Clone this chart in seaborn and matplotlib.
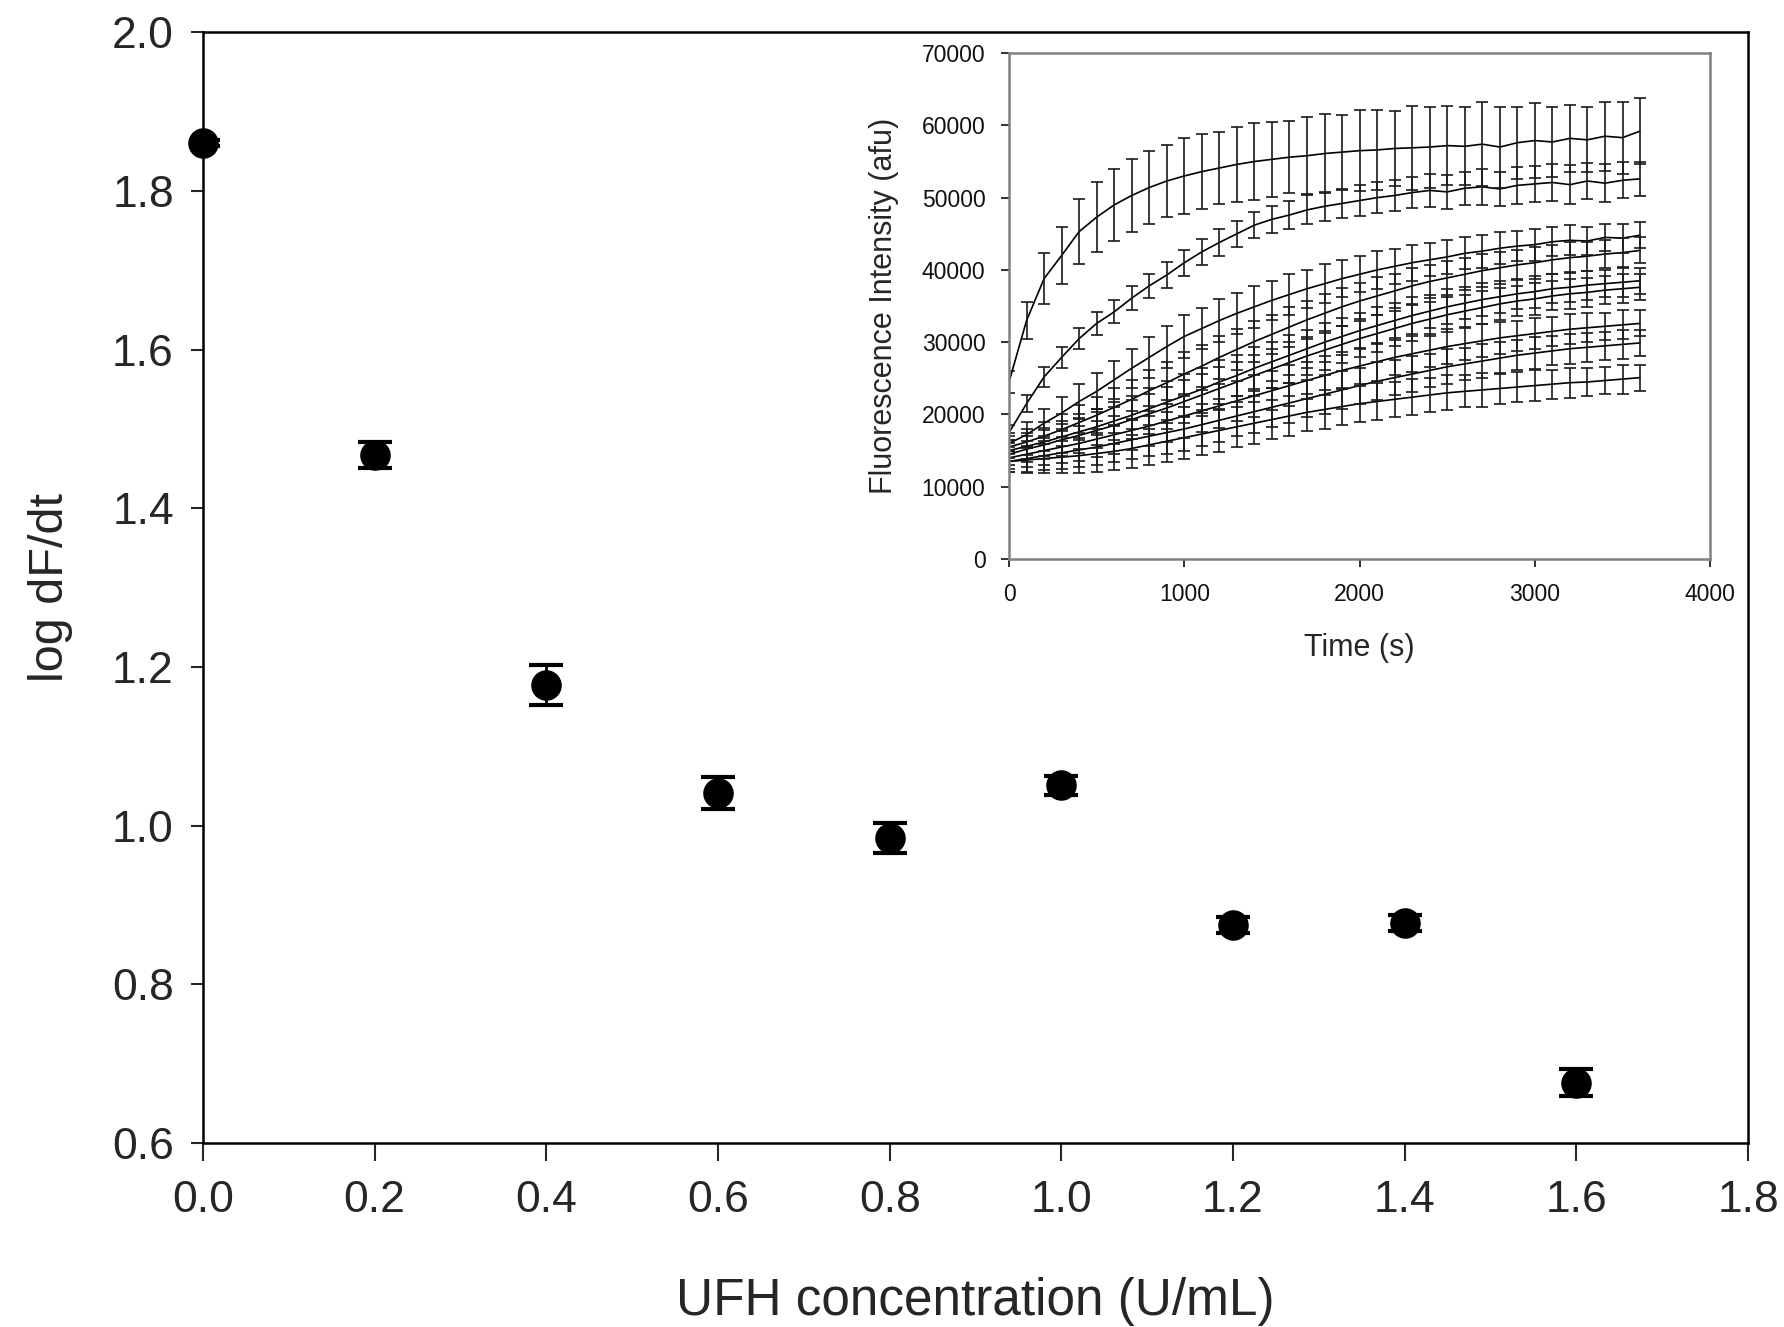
import matplotlib
matplotlib.use("Agg")
import matplotlib.pyplot as plt
import numpy as np
import pandas as pd
import seaborn as sns

# main panel: rate vs UFH concentration
conc = [0.0, 0.2, 0.4, 0.6, 0.8, 1.0, 1.2, 1.4, 1.6]
log_dfdt = [1.860, 1.467, 1.177, 1.041, 0.984, 1.051, 0.875, 0.877, 0.676]
log_err = [0.004, 0.016, 0.025, 0.020, 0.019, 0.012, 0.010, 0.010, 0.017]

# inset: fluorescence traces, one per concentration
time_s = list(range(0, 3700, 100))
trace_00 = [24500, 33000, 38800, 42000, 45300, 47300, 49000, 50300, 51400, 52300, 53000, 53600, 54100,
            54600, 55000, 55300, 55600, 55800, 56100, 56300, 56500, 56600, 56800, 56900, 57000, 57200,
            57100, 57400, 57000, 57600, 57900, 57700, 58200, 58000, 58500, 58300, 59200]
trace_02 = [17500, 21500, 25200, 27900, 30500, 32600, 34200, 36100, 37800, 39300, 41000, 42500, 43800,
            45000, 46200, 47000, 47600, 48300, 48800, 49200, 49600, 50000, 50300, 50700, 51000, 50800,
            51300, 51500, 51200, 51700, 51900, 52100, 51800, 52300, 52000, 52400, 52600]
trace_04 = [16000, 17200, 18800, 20200, 21800, 23200, 24800, 26400, 27900, 29400, 30800, 31900, 33000,
            34000, 34900, 35800, 36600, 37400, 38100, 38800, 39400, 40000, 40500, 41000, 41400, 41800,
            42300, 42600, 43000, 43300, 43500, 43900, 44100, 44000, 44500, 44400, 44800]
trace_06 = [15500, 16200, 17000, 17900, 18900, 19900, 21000, 22100, 23300, 24400, 25600, 26700, 27900,
            29000, 30100, 31100, 32100, 33100, 34000, 34900, 35700, 36400, 37100, 37800, 38400, 38900,
            39400, 39900, 40300, 40700, 41000, 41400, 41700, 41900, 42200, 42400, 42700]
trace_08 = [15000, 15600, 16200, 16900, 17600, 18300, 19100, 19900, 20800, 21700, 22600, 23500, 24500,
            25400, 26400, 27300, 28200, 29100, 30000, 30800, 31600, 32300, 33000, 33700, 34300, 34900,
            35400, 35900, 36300, 36700, 37000, 37400, 37600, 37900, 38100, 38300, 38500]
trace_10 = [14500, 15200, 15800, 16500, 17100, 17800, 18500, 19300, 20100, 20900, 21800, 22700, 23600,
            24500, 25400, 26300, 27200, 28100, 28900, 29700, 30500, 31200, 31900, 32600, 33200, 33800,
            34300, 34800, 35300, 35700, 36000, 36400, 36700, 36900, 37200, 37400, 37600]
trace_12 = [14000, 14500, 15000, 15500, 16000, 16600, 17200, 17800, 18400, 19100, 19800, 20500, 21200,
            21900, 22600, 23300, 24000, 24700, 25400, 26100, 26700, 27300, 27900, 28400, 28900, 29400,
            29800, 30200, 30600, 30900, 31200, 31500, 31800, 32000, 32200, 32400, 32600]
trace_14 = [13500, 13900, 14300, 14700, 15100, 15500, 16000, 16500, 17000, 17500, 18000, 18600, 19200,
            19800, 20400, 21000, 21600, 22200, 22800, 23400, 24000, 24600, 25100, 25600, 26100, 26600,
            27000, 27400, 27800, 28200, 28500, 28800, 29100, 29300, 29500, 29700, 29900]
trace_16 = [13500, 13700, 13900, 14100, 14300, 14600, 14900, 15300, 15800, 16300, 16800, 17300, 17800,
            18300, 18800, 19300, 19800, 20300, 20700, 21100, 21500, 21800, 22100, 22400, 22700, 23000,
            23200, 23400, 23600, 23800, 24000, 24200, 24400, 24500, 24700, 24900, 25100]

err_00 = [1500, 2500, 3500, 4000, 4500, 4800, 5000, 5000, 5000, 5000, 5200, 5200, 5000, 5200, 5300, 5200,
          5000, 5300, 5500, 5200, 5600, 5500, 5200, 5800, 5600, 5500, 5400, 5800, 5600, 5000, 5200, 4800,
          4600, 4500, 4800, 5000, 4600]
err_02 = [1000, 1200, 1400, 1500, 1500, 1600, 1600, 1700, 1700, 1800, 1800, 1800, 1900, 1800, 1800, 1900,
          1900, 2000, 2000, 2000, 2100, 2100, 2200, 2200, 2300, 2400, 2300, 2500, 2400, 2600, 2500, 2600,
          2700, 2500, 2600, 2500, 2400]
err_low = [1500, 1800, 2000, 2200, 2400, 2500, 2600, 2700, 2800, 2900, 3000, 2900, 3000, 2800, 2900, 2700,
           2800, 2600, 2700, 2600, 2500, 2600, 2400, 2500, 2300, 2400, 2200, 2300, 2200, 2100, 2200, 2000,
           2100, 2000, 1900, 2000, 1800]

traces = {"0.0": (trace_00, err_00), "0.2": (trace_02, err_02), "0.4": (trace_04, err_low),
          "0.6": (trace_06, err_low), "0.8": (trace_08, err_low), "1.0": (trace_10, err_low),
          "1.2": (trace_12, err_low), "1.4": (trace_14, err_low), "1.6": (trace_16, err_low)}

sns.set_style("ticks")
plt.rcParams['font.family'] = ['Liberation Sans', 'DejaVu Sans']

fig = plt.figure(figsize=(17.84, 13.27), dpi=100)
ax = fig.add_axes([0.1138, 0.1387, 0.866, 0.837])

ax.errorbar(conc, log_dfdt, yerr=log_err, fmt='none', ecolor='black', elinewidth=2,
            capsize=12, capthick=3, zorder=2)
sns.scatterplot(x=conc, y=log_dfdt, ax=ax, color='black', s=22 ** 2, edgecolor='black',
                linewidth=0, zorder=3, clip_on=False)

ax.set_xlim(0, 1.8)
ax.set_ylim(0.6, 2.0)
ax.set_xticks(np.arange(0, 1.81, 0.2))
ax.set_yticks(np.arange(0.6, 2.01, 0.2))
ax.xaxis.set_major_formatter(matplotlib.ticker.FormatStrFormatter('%.1f'))
ax.yaxis.set_major_formatter(matplotlib.ticker.FormatStrFormatter('%.1f'))
ax.tick_params(axis='y', direction='out', length=9, width=1.5, labelsize=32, pad=12, right=False)
ax.tick_params(axis='x', direction='out', length=13, width=1.5, labelsize=32, pad=14, top=False)
for s in ax.spines.values():
    s.set_linewidth(1.8)
    s.set_color('black')
ax.set_xlabel('UFH concentration (U/mL)', fontsize=37, labelpad=40)
ax.set_ylabel('log dF/dt', fontsize=35, labelpad=28)

# inset
ins = fig.add_axes([0.5656, 0.5787, 0.393, 0.3813])
rows = []
for c, (vals, errs) in traces.items():
    for t, v in zip(time_s, vals):
        rows.append({'time': t, 'conc': c, 'intensity': v})
df = pd.DataFrame(rows)
sns.lineplot(data=df, x='time', y='intensity', units='conc', estimator=None, color='black',
             linewidth=1.2, ax=ins)
for c, (vals, errs) in traces.items():
    ins.errorbar(time_s, vals, yerr=errs, fmt='none', ecolor='#1a1a1a', elinewidth=1.2,
                 capsize=4.5, capthick=1.2)

ins.set_xlim(0, 4000)
ins.set_ylim(0, 70000)
ins.set_xticks(range(0, 4001, 1000))
ins.set_yticks(range(0, 70001, 10000))
ins.tick_params(direction='out', length=6, width=1.2, labelsize=16.5, pad=11, colors='#111111',
                top=False, right=False)
for s in ins.spines.values():
    s.set_linewidth(1.8)
    s.set_color('#808080')
ins.set_xlabel('Time (s)', fontsize=22, labelpad=20)
ins.set_ylabel('Fluorescence Intensity (afu)', fontsize=22, labelpad=16)

fig.savefig('out.png', dpi=100)
